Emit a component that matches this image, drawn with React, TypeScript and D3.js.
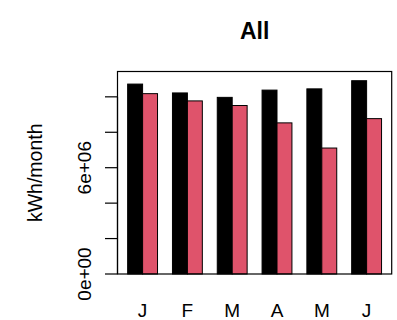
import React from "react";
import * as d3 from "d3";

const months = ["J", "F", "M", "A", "M", "J"];
const series1 = [10.72e6, 10.22e6, 9.97e6, 10.38e6, 10.45e6, 10.91e6];
const series2 = [10.18e6, 9.77e6, 9.51e6, 8.53e6, 7.11e6, 8.77e6];
const yTicks = [0, 2e6, 4e6, 6e6, 8e6, 1e7];
const yTickLabels = ["0e+00", "", "", "6e+06", "", ""];
const colors = ["#000000", "#DF536B"];
const title = "All";
const yLabel = "kWh/month";

const W = 397;
const H = 320;
const left = 117.5;
const right = 391.7;
const top = 71.5;
const bottom = 274;
const font = "'Liberation Sans', Arial, Helvetica, sans-serif";

export default function App() {
  // R barplot(beside=TRUE) units: each group = 2 bars of width 1, space 1 before group
  const x = d3.scaleLinear().domain([0.32, 18.68]).range([left, right]);
  const y = d3.scaleLinear().domain([0, 11.43e6]).range([bottom, top]);
  const groupStart = (i: number) => 1 + i * 3;

  return (
    <svg
      width={W}
      height={H}
      style={{ position: "absolute", left: 0, top: 0, background: "#fff" }}
      fontFamily={font}
    >
      <rect x={0} y={0} width={W} height={H} fill="#fff" />
      {months.map((m, i) => {
        const vals = [series1[i], series2[i]];
        return (
          <g key={i}>
            {vals.map((v, j) => {
              const x0 = x(groupStart(i) + j);
              const x1 = x(groupStart(i) + j + 1);
              return (
                <rect
                  key={j}
                  x={x0}
                  y={y(v)}
                  width={x1 - x0}
                  height={y(0) - y(v)}
                  fill={colors[j]}
                  stroke="#000"
                  strokeWidth={1}
                />
              );
            })}
            <text
              x={x(groupStart(i) + 1)}
              y={316.5}
              textAnchor="middle"
              fontSize={19}
              fill="#000"
            >
              {m}
            </text>
          </g>
        );
      })}
      <rect
        x={left}
        y={top}
        width={right - left}
        height={bottom - top}
        fill="none"
        stroke="#000"
        strokeWidth={1.2}
      />
      <line x1={left} x2={left} y1={y(yTicks[0])} y2={y(yTicks[yTicks.length - 1])} stroke="#000" strokeWidth={1.2} />
      {yTicks.map((t, i) => (
        <g key={i}>
          <line x1={left - 12.5} x2={left} y1={y(t)} y2={y(t)} stroke="#000" strokeWidth={1.2} />
          {yTickLabels[i] && (
            <text
              transform={`translate(90.5,${y(t)}) rotate(-90)`}
              textAnchor="middle"
              fontSize={19}
              fill="#000"
            >
              {yTickLabels[i]}
            </text>
          )}
        </g>
      ))}
      <text
        transform={`translate(41.5,${(top + bottom) / 2}) rotate(-90)`}
        textAnchor="middle"
        fontSize={19.5}
        fill="#000"
      >
        {yLabel}
      </text>
      <text
        x={(left + right) / 2}
        y={39}
        textAnchor="middle"
        fontSize={23}
        fontWeight="bold"
        fill="#000"
      >
        {title}
      </text>
    </svg>
  );
}
